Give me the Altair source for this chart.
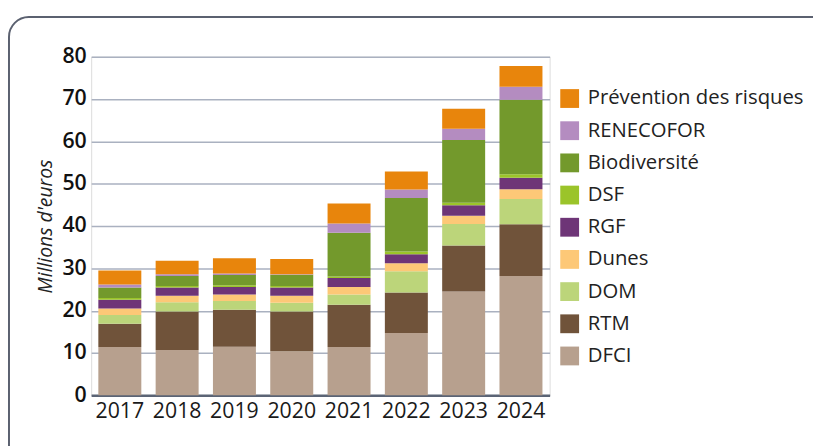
import altair as alt
import pandas as pd

years = ["2017", "2018", "2019", "2020", "2021", "2022", "2023", "2024"]
series_order = ["Prévention des risques", "RENECOFOR", "Biodiversité", "DSF", "RGF",
                "Dunes", "DOM", "RTM", "DFCI"]
colors = ["#E8850C", "#B48CC0", "#73992C", "#9BC42A", "#6E3577",
          "#FDC877", "#BCD57A", "#70533A", "#B7A08E"]

dfci = [11.4, 10.7, 11.5, 10.4, 11.4, 14.7, 24.5, 28.2]
rtm = [5.5, 9.1, 8.7, 9.4, 10.0, 9.6, 10.9, 12.2]
dom = [2.1, 2.2, 2.1, 2.1, 2.4, 5.0, 5.1, 6.0]
dunes = [1.5, 1.5, 1.5, 1.6, 1.8, 1.9, 1.9, 2.3]
rgf = [2.1, 2.0, 1.8, 2.0, 2.1, 2.1, 2.5, 2.7]
dsf = [0.4, 0.3, 0.4, 0.3, 0.4, 0.7, 0.6, 0.8]
biodiv = [2.5, 2.4, 2.4, 2.7, 10.3, 12.6, 14.8, 17.6]
renecofor = [0.7, 0.4, 0.4, 0.1, 2.2, 2.0, 2.7, 3.1]
prevention = [3.3, 3.2, 3.6, 3.6, 4.7, 4.3, 4.7, 4.9]

values = {
    "DFCI": dfci, "RTM": rtm, "DOM": dom, "Dunes": dunes, "RGF": rgf, "DSF": dsf,
    "Biodiversité": biodiv, "RENECOFOR": renecofor, "Prévention des risques": prevention,
}
stack_rank = {name: i for i, name in enumerate(reversed(series_order))}

rows = []
for name, vals in values.items():
    for y, v in zip(years, vals):
        rows.append({"Année": y, "Série": name, "Valeur": v, "ord": stack_rank[name]})
df = pd.DataFrame(rows)

FONT = "Open Sans"

bars = alt.Chart(df).mark_bar(opacity=1).encode(
    x=alt.X("Année:N", sort=years, title=None,
            scale=alt.Scale(paddingInner=0.25, paddingOuter=0.125),
            axis=alt.Axis(labelAngle=0, labelFontSize=21.5, labelFont=FONT, labelColor="#1a1a1a",
                          ticks=False, domain=True, domainColor="#5b6475", domainWidth=2.5,
                          labelPadding=5, grid=False)),
    y=alt.Y("Valeur:Q", stack="zero", title="Millions d'euros",
            scale=alt.Scale(domain=[0, 80], nice=False),
            axis=alt.Axis(values=[0, 10, 20, 30, 40, 50, 60, 70, 80], labelFontSize=21.5,
                          labelFont=FONT, labelFontWeight=600, labelColor="#111111",
                          ticks=False, domain=False, labelPadding=5,
                          grid=True, gridColor="#aab1c0", gridWidth=1.5,
                          titleFont=FONT, titleFontSize=19.5, titleFontStyle="italic",
                          titleFontWeight="normal", titleColor="#222222", titlePadding=6)),
    color=alt.Color("Série:N", scale=alt.Scale(domain=series_order, range=colors),
                    legend=alt.Legend(title=None, orient="none", legendX=473, legendY=32,
                                      symbolType="square", symbolSize=361, symbolStrokeWidth=0,
                                      symbolOpacity=1, labelFont=FONT, labelFontSize=20.5,
                                      labelColor="#222222", labelOffset=8, rowPadding=11.5,
                                      padding=0, labelLimit=300)),
    order=alt.Order("ord:Q", sort="ascending"),
)

border = alt.Chart(pd.DataFrame({"a": [0]})).mark_rect(
    fillOpacity=0, stroke="#5b6170", strokeWidth=2, cornerRadius=20, clip=False
).encode(
    x=alt.value(-83), x2=alt.value(900), y=alt.value(-40), y2=alt.value(600)
)

chart = alt.layer(border, bars).properties(
    width=463, height=342,
    autosize=alt.AutoSizeParams(type="none"),
    padding={"left": 84, "top": 47, "right": 266, "bottom": 49},
).configure_view(stroke=None).configure(background="white")

chart.save("out.html", embed_options={"renderer": "svg", "actions": False})
